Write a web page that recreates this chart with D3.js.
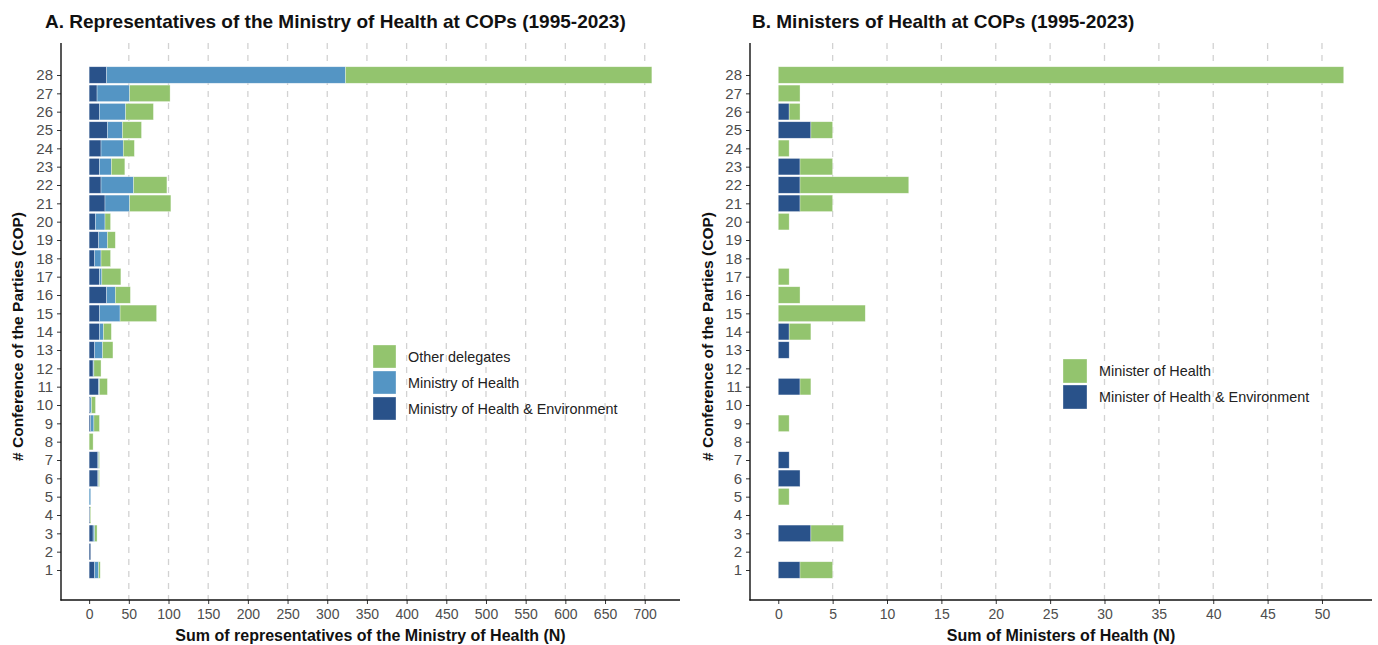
<!DOCTYPE html>
<html>
<head>
<meta charset="utf-8">
<script src="https://cdn.jsdelivr.net/npm/d3@7"></script>
<style>
  html, body { margin: 0; padding: 0; background: #ffffff; }
  svg { display: block; font-family: "Liberation Sans", Arial, sans-serif; }
</style>
</head>
<body>
<svg id="chart" width="1378" height="645"></svg>
<script>
// Conference of the Parties numbers (COP1 1995 ... COP28 2023)
const cops = [1,2,3,4,5,6,7,8,9,10,11,12,13,14,15,16,17,18,19,20,21,22,23,24,25,26,27,28];

// Panel A: delegates of the health ministries, by COP
const ministryHealthEnv = [7,2,5,1,0,11,11,0,2,1,12,5,7,13,13,22,13,7,12,8,20,15,13,15,23,13,10,22];
const ministryHealth    = [5,0,2,0,2,1,1,0,4,2,1,1,10,5,26,11,3,8,11,12,31,41,15,28,19,33,41,301];
const otherDelegates    = [2,0,3,1,0,1,1,5,7,5,10,9,13,10,46,19,24,12,10,7,52,42,17,14,24,35,51,386];

// Panel B: ministers of health attending, by COP
const ministerHealthEnv = [2,0,3,0,0,2,1,0,0,0,2,0,1,1,0,0,0,0,0,0,2,2,2,0,3,1,0,0];
const ministerHealth    = [3,0,3,0,1,0,0,0,1,0,1,0,0,2,8,2,1,0,0,1,3,10,3,1,2,1,2,52];

// Axis tick labels
const xTicksA = [0,50,100,150,200,250,300,350,400,450,500,550,600,650,700];
const xTicksB = [0,5,10,15,20,25,30,35,40,45,50];

const colDark = "#29528a", colBlue = "#5495c4", colGreen = "#93c46e";

const svg = d3.select("#chart");

function panel(opts) {
  const g = svg.append("g");
  const { left, right, top, bottom, series, colors, ticks, title, xTitle, legend } = opts;

  const rows = cops.map((c, i) => {
    const r = { cop: c };
    series.forEach(s => r[s.key] = s.values[i]);
    return r;
  });
  const keys = series.map(s => s.key);
  const stacked = d3.stack().keys(keys)(rows);
  const maxV = d3.max(stacked[stacked.length - 1], d => d[1]);

  // 5% expansion on the value axis
  const pad = maxV * 0.05;
  const x = d3.scaleLinear().domain([-pad, maxV + pad]).range([left, right]);
  const y = d3.scaleLinear().domain([1, 28]).range([570, 75]);
  const step = Math.abs(y(2) - y(1));
  const barH = step * 0.9;

  // dashed vertical grid
  g.append("g").selectAll("line")
    .data(ticks.filter(t => t !== 0))
    .join("line")
    .attr("x1", d => x(d)).attr("x2", d => x(d))
    .attr("y1", top).attr("y2", bottom)
    .attr("stroke", "#d2d2d2").attr("stroke-width", 1.3)
    .attr("stroke-dasharray", "6,6");

  // stacked bars
  stacked.forEach((layer, li) => {
    g.append("g").selectAll("rect")
      .data(layer.filter(d => d[1] - d[0] > 0))
      .join("rect")
      .attr("x", d => x(d[0]))
      .attr("width", d => x(d[1]) - x(d[0]))
      .attr("y", d => y(d.data.cop) - barH / 2)
      .attr("height", barH)
      .attr("fill", colors[li])
      .attr("stroke", "#ffffff").attr("stroke-opacity", 0.55).attr("stroke-width", 0.6);
  });

  // x axis
  const xAxis = g.append("g").attr("transform", `translate(0,${bottom})`)
    .call(d3.axisBottom(x).tickValues(ticks).tickSize(4).tickPadding(5).tickFormat(d3.format("d")));
  xAxis.select(".domain").remove();
  xAxis.selectAll(".tick line").attr("stroke", "#333").attr("stroke-width", 1);
  xAxis.selectAll(".tick text").attr("fill", "#4d4d4d").style("font-size", "14px");

  // y axis
  const yAxis = g.append("g").attr("transform", `translate(${left},0)`)
    .call(d3.axisLeft(y).tickValues(cops).tickSize(4).tickPadding(4).tickFormat(d3.format("d")));
  yAxis.select(".domain").remove();
  yAxis.selectAll(".tick line").attr("stroke", "#333").attr("stroke-width", 1);
  yAxis.selectAll(".tick text").attr("fill", "#4d4d4d").style("font-size", "15px");

  // axis lines
  g.append("line").attr("x1", left).attr("x2", left).attr("y1", top).attr("y2", bottom + 0.6)
    .attr("stroke", "#111").attr("stroke-width", 1.4);
  g.append("line").attr("x1", left - 0.6).attr("x2", right).attr("y1", bottom).attr("y2", bottom)
    .attr("stroke", "#111").attr("stroke-width", 1.4);

  // titles
  g.append("text").attr("x", opts.titleX).attr("y", 28)
    .attr("font-weight", "bold").attr("font-size", "19px").attr("fill", "#111")
    .text(title);
  g.append("text").attr("x", (left + right) / 2).attr("y", 641)
    .attr("text-anchor", "middle").attr("font-weight", "bold").attr("font-size", "16px")
    .attr("fill", "#111").text(xTitle);
  g.append("text")
    .attr("transform", `translate(${opts.yTitleX},${(top + bottom) / 2 + 15}) rotate(-90)`)
    .attr("text-anchor", "middle").attr("font-weight", "bold").attr("font-size", "15.5px")
    .attr("fill", "#111").text("# Conference of the Parties (COP)");

  // legend
  const lg = g.append("g").attr("transform", `translate(${legend.x},${legend.y})`);
  legend.items.forEach((it, i) => {
    lg.append("rect").attr("x", 0).attr("y", i * 26).attr("width", legend.size).attr("height", legend.size)
      .attr("fill", it.color).attr("stroke", "#ffffff").attr("stroke-opacity", 0.55).attr("stroke-width", 0.6);
    lg.append("text").attr("x", legend.size + 12).attr("y", i * 26 + legend.size / 2 + 5)
      .attr("font-size", "14.4px").attr("fill", "#222").text(it.label);
  });
}

panel({
  left: 61, right: 680, top: 43, bottom: 600,
  titleX: 45, yTitleX: 23,
  series: [
    { key: "env", values: ministryHealthEnv },
    { key: "moh", values: ministryHealth },
    { key: "other", values: otherDelegates }
  ],
  colors: [colDark, colBlue, colGreen],
  ticks: xTicksA,
  title: "A. Representatives of the Ministry of Health at COPs (1995-2023)",
  xTitle: "Sum of representatives of the Ministry of Health (N)",
  legend: {
    x: 373, y: 345, size: 23,
    items: [
      { label: "Other delegates", color: colGreen },
      { label: "Ministry of Health", color: colBlue },
      { label: "Ministry of Health & Environment", color: colDark }
    ]
  }
});

panel({
  left: 750, right: 1372, top: 43, bottom: 600,
  titleX: 752, yTitleX: 713,
  series: [
    { key: "env", values: ministerHealthEnv },
    { key: "mh", values: ministerHealth }
  ],
  colors: [colDark, colGreen],
  ticks: xTicksB,
  title: "B. Ministers of Health at COPs (1995-2023)",
  xTitle: "Sum of Ministers of Health (N)",
  legend: {
    x: 1063, y: 359, size: 24,
    items: [
      { label: "Minister of Health", color: colGreen },
      { label: "Minister of Health & Environment", color: colDark }
    ]
  }
});
</script>
</body>
</html>
